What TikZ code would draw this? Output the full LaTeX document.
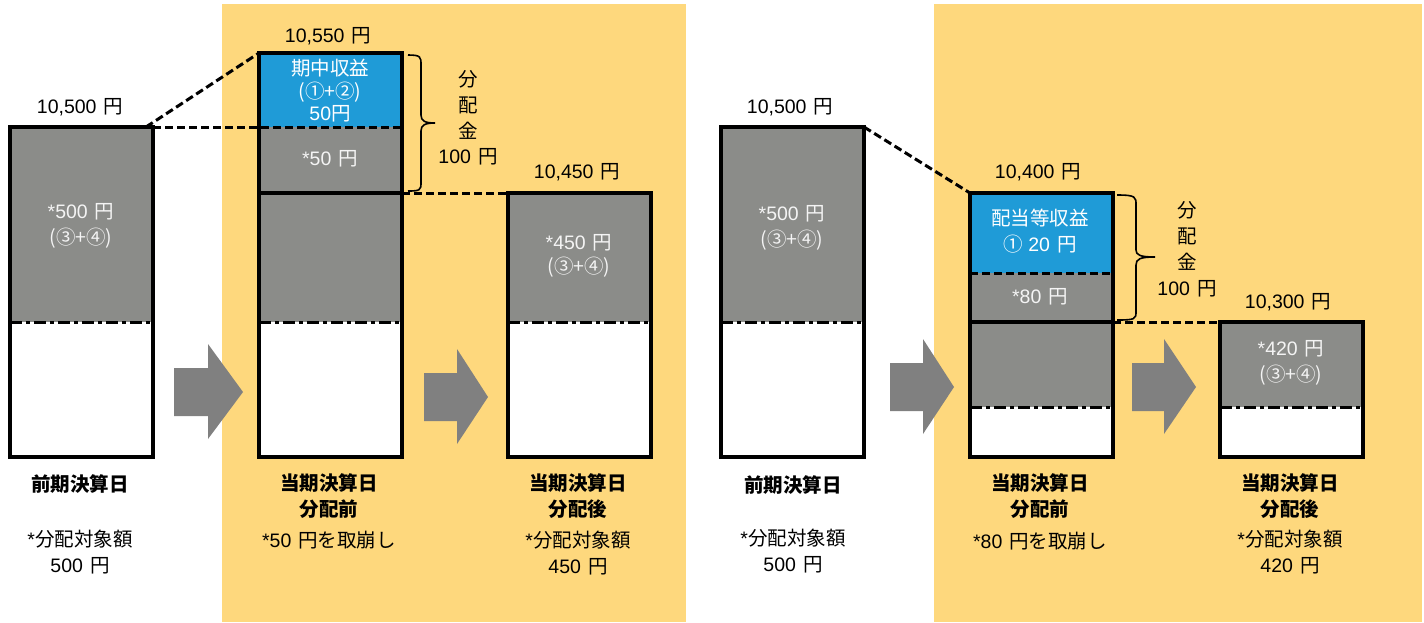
\documentclass[tikz,border=0pt]{standalone}
\usepackage{fontspec}
\setmainfont{Liberation Sans}
\newfontfamily\jp{Noto Sans CJK JP}
\newcommand\J[1]{{\jp #1}}
\definecolor{ybg}{HTML}{FED87D}
\definecolor{gbox}{HTML}{8B8C89}
\definecolor{bbox}{HTML}{1F9BD7}
\definecolor{agray}{HTML}{808080}
\definecolor{ltxt}{HTML}{F4F4F4}
\begin{document}
\begin{tikzpicture}[x=1pt,y=-1pt,
  box/.style={draw=black, line width=3.6pt, minimum width=143pt, inner sep=0pt, outer sep=0pt, anchor=north west},
  dsh/.style={line width=3pt, dash pattern=on 8pt off 4pt},
  ddot/.style={line width=3pt, dash pattern=on 12pt off 4pt on 4pt off 4pt},
  sep/.style={line width=3.4pt},
  brc/.style={line width=1.6pt},
  txt/.style={font=\fontsize{19.5}{26}\selectfont, align=center, inner sep=0pt},
  wtxt/.style={txt, text=ltxt},
  btxt/.style={txt, font=\fontsize{19.5}{26}\selectfont\bfseries}
]
\useasboundingbox (0,0) rectangle (1424,622);
% background panels
\fill[ybg] (222,4) rectangle (686,622);
\fill[ybg] (934,4) rectangle (1422,622);

% ---------- segment fills ----------
\fill[gbox] (10,127) rectangle (153,322);
\fill[white] (10,322) rectangle (153,457);
\fill[bbox] (259,53) rectangle (402,127);
\fill[gbox] (259,127) rectangle (402,322);
\fill[white] (259,322) rectangle (402,457);
\fill[gbox] (508,193) rectangle (651,322);
\fill[white] (508,322) rectangle (651,457);
\fill[gbox] (721,127) rectangle (864,322);
\fill[white] (721,322) rectangle (864,457);
\fill[bbox] (970,193) rectangle (1113,273);
\fill[gbox] (970,273) rectangle (1113,407);
\fill[white] (970,407) rectangle (1113,457);
\fill[gbox] (1220,322) rectangle (1363,407);
\fill[white] (1220,407) rectangle (1363,457);

% internal separators
\draw[ddot] (10,322) -- (153,322);
\draw[ddot] (259,322) -- (402,322);
\draw[ddot] (508,322) -- (651,322);
\draw[ddot] (721,322) -- (864,322);
\draw[ddot] (970,407) -- (1113,407);
\draw[ddot] (1220,407) -- (1363,407);
\draw[sep] (259,193) -- (402,193);
\draw[sep] (970,322) -- (1113,322);
\draw[dsh] (970,273) -- (1113,273);

% ---------- box outlines ----------
\node[box, minimum height=330pt] (B1) at (10,127) {};
\node[box, minimum height=404pt] (B2) at (259,53) {};
\node[box, minimum height=264pt] (B3) at (508,193) {};
\node[box, minimum height=330pt] (B4) at (721,127) {};
\node[box, minimum height=264pt] (B5) at (970,193) {};
\node[box, minimum height=135pt] (B6) at (1220,322) {};

% ---------- dashed connectors ----------
\draw[dsh] ([xshift=-7pt]B1.north east) -- (B2.north west);
\draw[dsh] (B1.north east) -- (B2.east |- B1.north east);
\draw[dsh] (B2.east |- B3.north west) -- (B3.north west);
\draw[dsh] (B4.north east) -- (B5.north west);
\draw[dsh] (B5.east |- B6.north west) -- (B6.north west);

% ---------- braces ----------
\draw[brc] (408,55) .. controls (421,55) and (421,57) .. (421,65) -- (421,115)
  .. controls (421,121) and (425,123) .. (435,123)
  .. controls (425,123) and (421,125) .. (421,131) -- (421,183)
  .. controls (421,190) and (420,191) .. (408,191);
\draw[brc] (1117,195) .. controls (1136,195) and (1136,197) .. (1136,205) -- (1136,250)
  .. controls (1136,255) and (1140,257) .. (1155,257)
  .. controls (1140,257) and (1136,259) .. (1136,265) -- (1136,312)
  .. controls (1136,319) and (1135,320) .. (1117,320);

% ---------- block arrows ----------
\fill[agray] (174,368) -- (208,368) -- (208,344) -- (243,392) -- (208,439) -- (208,416) -- (174,416) -- cycle;
\fill[agray] (424,373) -- (457,373) -- (457,349) -- (488,397) -- (457,444) -- (457,421) -- (424,421) -- cycle;
\fill[agray] (890,363) -- (923,363) -- (923,339) -- (954,387) -- (923,434) -- (923,411) -- (890,411) -- cycle;
\fill[agray] (1132,363) -- (1164,363) -- (1164,339) -- (1196,387) -- (1164,434) -- (1164,411) -- (1132,411) -- cycle;

% ---------- value labels above boxes ----------
\node[txt] (v1) at (80,107) {10,500\hspace{7pt}\J{円}};
\node[txt] (v2) at (328,36) {10,550\hspace{7pt}\J{円}};
\node[txt] (v3) at (577,172) {10,450\hspace{7pt}\J{円}};
\node[txt] (v4) at (790,107) {10,500\hspace{7pt}\J{円}};
\node[txt] (v5) at (1038,172) {10,400\hspace{7pt}\J{円}};
\node[txt] (v6) at (1288,302) {10,300\hspace{7pt}\J{円}};

% ---------- texts in boxes ----------
\node[wtxt] (t1) at (81,226) {*500\hspace{7pt}\J{円}\\\J{(③+④)}};
\node[txt, text=white, font=\fontsize{19.5}{22.5}\selectfont] (t2a) at (330,91) {\J{期中収益}\\\J{(①+②)}\\50\J{円}};
\node[wtxt] (t2b) at (330,159) {*50\hspace{7pt}\J{円}};
\node[wtxt, font=\fontsize{19.5}{23.5}\selectfont] (t3) at (579,256) {*450\hspace{7pt}\J{円}\\\J{(③+④)}};
\node[wtxt] (t4) at (792,228) {*500\hspace{7pt}\J{円}\\\J{(③+④)}};
\node[txt, text=white] (t5a) at (1040,231) {\J{配当等収益}\\\J{①} 20\hspace{7pt}\J{円}};
\node[wtxt] (t5b) at (1040,297) {*80\hspace{7pt}\J{円}};
\node[wtxt] (t6) at (1291,363) {*420\hspace{7pt}\J{円}\\\J{(③+④)}};

% ---------- brace labels ----------
\node[txt, font=\fontsize{19.5}{25.7}\selectfont] (d1) at (468,118) {\J{分}\\\J{配}\\\J{金}\\100\hspace{7pt}\J{円}};
\node[txt] (d2) at (1187,249) {\J{分}\\\J{配}\\\J{金}\\100\hspace{7pt}\J{円}};

% ---------- bottom labels ----------
\node[btxt] (p1) at (80,484) {\J{前期決算日}};
\node[txt] (q1) at (80,552) {*\J{分配対象額}\\500\hspace{7pt}\J{円}};
\node[btxt] (p2) at (329,496) {\J{当期決算日}\\\J{分配前}};
\node[txt] (q2) at (329,540) {*50\hspace{7pt}\J{円を取崩し}};
\node[btxt] (p3) at (578,496) {\J{当期決算日}\\\J{分配後}};
\node[txt] (q3) at (578,553) {*\J{分配対象額}\\450\hspace{7pt}\J{円}};
\node[btxt] (p4) at (793,485) {\J{前期決算日}};
\node[txt] (q4) at (793,551) {*\J{分配対象額}\\500\hspace{7pt}\J{円}};
\node[btxt] (p5) at (1040,496) {\J{当期決算日}\\\J{分配前}};
\node[txt] (q5) at (1040,541) {*80\hspace{7pt}\J{円を取崩し}};
\node[btxt] (p6) at (1290,496) {\J{当期決算日}\\\J{分配後}};
\node[txt] (q6) at (1290,552) {*\J{分配対象額}\\420\hspace{7pt}\J{円}};
\end{tikzpicture}
\end{document}
